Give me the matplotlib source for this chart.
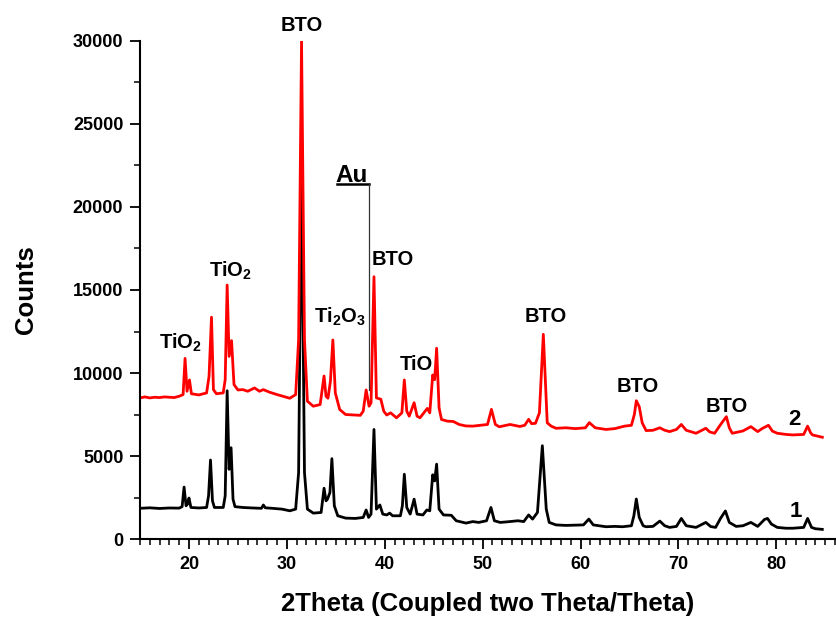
import matplotlib
matplotlib.use("Agg")
import matplotlib.pyplot as plt
from matplotlib.ticker import MultipleLocator

plt.rcParams['font.family'] = ['Liberation Sans', 'DejaVu Sans']
plt.rcParams['font.weight'] = 'bold'
plt.rcParams['mathtext.fontset'] = 'custom'
plt.rcParams['mathtext.rm'] = 'Liberation Sans:bold'
plt.rcParams['mathtext.bf'] = 'Liberation Sans:bold'
plt.rcParams['mathtext.it'] = 'Liberation Sans:bold'
plt.rcParams['mathtext.default'] = 'bf'

# ---- sample 1 (black) ----
two_theta_1 = [15.0, 16.0, 17.0, 18.0, 19.0, 19.3, 19.5, 19.7, 19.85, 20.0, 20.2, 21.0, 21.8, 22.0,
               22.2, 22.4, 22.6, 23.5, 23.7, 23.9, 24.1, 24.3, 24.5, 24.7, 25.5, 26.5, 27.4, 27.6,
               27.8, 28.5, 29.5, 30.3, 30.9, 31.2, 31.5, 31.8, 32.1, 32.7, 33.5, 33.8, 34.0, 34.15,
               34.4, 34.6, 34.85, 35.2, 36.0, 37.0, 37.8, 38.1, 38.35, 38.6, 38.9, 39.15, 39.5, 39.8,
               40.2, 40.5, 40.8, 41.6, 41.8, 42.0, 42.25, 42.6, 43.0, 43.3, 43.9, 44.3, 44.6, 44.9,
               45.1, 45.3, 45.55, 46.0, 46.8, 47.3, 48.3, 49.0, 49.6, 50.4, 50.85, 51.2, 51.8, 52.6,
               53.6, 54.2, 54.7, 55.1, 55.6, 56.1, 56.5, 56.8, 57.5, 58.5, 59.5, 60.3, 60.85, 61.3,
               62.6, 63.5, 64.3, 65.2, 65.45, 65.7, 66.0, 66.4, 66.7, 67.4, 68.1, 68.6, 69.1, 69.8,
               70.3, 70.8, 71.8, 72.8, 73.3, 73.8, 74.3, 74.8, 75.2, 75.9, 76.6, 77.4, 78.1, 78.8,
               79.1, 79.5, 80.1, 81.0, 81.7, 82.8, 83.2, 83.6, 84.0, 84.7]
counts_1 = [1850, 1880, 1840, 1870, 1860, 1950, 3130, 2000, 2100, 2470, 1900, 1870, 1900, 2600,
            4760, 2300, 1900, 1900, 2600, 8930, 4200, 5500, 2400, 1950, 1900, 1870, 1850, 2050,
            1880, 1850, 1800, 1700, 1800, 4000, 22500, 4000, 1800, 1560, 1600, 3060, 2300, 2400,
            2800, 4840, 2000, 1400, 1260, 1240, 1300, 1750, 1300, 1500, 6600, 1800, 2050, 1500,
            1450, 1560, 1400, 1400, 2000, 3900, 1900, 1500, 2400, 1500, 1450, 1750, 1700, 3870,
            3500, 4510, 1800, 1450, 1430, 1100, 960, 1050, 1000, 1100, 1900, 1100, 1000, 1040,
            1100, 1050, 1450, 1200, 1600, 5620, 1800, 1000, 850, 820, 840, 850, 1200, 850,
            740, 760, 740, 800, 1400, 2410, 1300, 800, 740, 760, 1080, 800, 700, 760,
            1240, 800, 700, 1000, 750, 700, 1240, 1690, 1000, 760, 800, 1000, 760, 1180,
            1240, 900, 700, 650, 650, 700, 1240, 700, 620, 580]

# ---- sample 2 (red) ----
two_theta_2 = [15.0, 15.5, 16.0, 16.5, 17.0, 17.5, 18.0, 18.5, 19.0, 19.4, 19.6, 19.8, 20.05, 20.25,
               21.0, 21.8, 22.05, 22.3, 22.5, 22.8, 23.5, 23.7, 23.9, 24.1, 24.35, 24.6, 25.0, 25.5,
               26.0, 26.7, 27.2, 27.6, 28.2, 29.0, 29.6, 30.3, 30.9, 31.2, 31.5, 31.8, 32.1, 32.7,
               33.4, 33.8, 34.0, 34.2, 34.45, 34.7, 34.95, 35.4, 36.0, 36.8, 37.5, 37.8, 38.1, 38.4,
               38.6, 38.9, 39.15, 39.6, 39.9, 40.2, 40.6, 41.2, 41.75, 42.0, 42.25, 42.5, 43.0, 43.3,
               43.6, 44.35, 44.6, 44.9, 45.1, 45.3, 45.55, 45.8, 46.4, 47.0, 47.6, 48.3, 49.0, 49.8,
               50.5, 50.9, 51.3, 51.7, 52.8, 53.8, 54.3, 54.7, 55.0, 55.4, 55.8, 56.2, 56.6, 57.0,
               57.5, 58.5, 59.5, 60.5, 60.9, 61.5, 62.6, 63.5, 64.5, 65.2, 65.5, 65.7, 66.0, 66.3,
               66.7, 67.4, 68.1, 68.6, 69.1, 69.8, 70.3, 70.8, 71.8, 72.8, 73.2, 73.7, 74.35, 74.9,
               75.2, 75.5, 76.6, 77.4, 78.1, 78.6, 79.2, 79.6, 80.1, 81.0, 81.7, 82.8, 83.2, 83.5,
               83.7, 84.2, 84.7]
counts_2 = [8500, 8560, 8500, 8540, 8520, 8560, 8540, 8520, 8600, 8700, 10880, 8900, 9580, 8750,
            8680, 8800, 9800, 13360, 9000, 8750, 8800, 9600, 15300, 11000, 11950, 9300, 8980, 9000,
            8900, 9100, 8900, 9000, 8850, 8700, 8600, 8480, 8700, 12000, 30000, 12000, 8300, 8000,
            8100, 9820, 8600, 8480, 9500, 11990, 8800, 7800, 7500, 7470, 7450, 7700, 8980, 8000,
            8200, 15800, 8500, 8420, 7700, 7470, 7600, 7300, 7600, 9580, 7700, 7400, 8210, 7400,
            7300, 7870, 7600, 9880, 9600, 11490, 7900, 7200, 7100, 7080, 6900, 6810, 6800, 6850,
            6900, 7810, 6900, 6760, 6900, 6780, 6850, 7210, 6950, 6970, 7600, 12330, 7000, 6800,
            6670, 6700, 6650, 6700, 7010, 6700, 6600, 6650, 6800, 6850, 7500, 8330, 7970, 7000,
            6530, 6550, 6700, 6550, 6470, 6600, 6900, 6550, 6370, 6670, 6450, 6370, 6930, 7370,
            6700, 6370, 6510, 6770, 6470, 6670, 6850, 6500, 6370, 6300, 6270, 6300, 6800, 6400,
            6270, 6200, 6130]

# ---- peak labels (text, x, y baseline) ----
label_texts = ['TiO$_2$', 'TiO$_2$', 'Ti$_2$O$_3$', 'BTO', 'TiO', 'BTO', 'BTO', 'BTO']
label_x = [16.94, 22.04, 32.76, 38.64, 41.53, 54.29, 63.64, 72.76]
label_y = [11446, 15780, 13012, 16506, 10181, 13090, 8873, 7669]

top_label = 'BTO'
top_label_x = 31.53
top_label_y = 30934

au_text = 'Au'
au_text_xy = (34.97, 21525)
au_underline_x = [35.1, 38.37, 38.37]
au_underline_y = [21386, 21386, 8976]

sample_names = ['1', '2']
sample_x = [81.33, 81.26]
sample_y = [1343, 6867]

fig = plt.figure(figsize=(8.36, 6.18), dpi=100)
ax = fig.add_axes([0.1675, 0.1278, 0.8325, 0.8059])

ax.plot(two_theta_1, counts_1, color='black', lw=2.0)
ax.plot(two_theta_2, counts_2, color='#ff0000', lw=2.0)

ax.set_xlim(15, 86.1)
ax.set_ylim(0, 30000)

for s in ['top', 'right']:
    ax.spines[s].set_visible(False)
for s in ['left', 'bottom']:
    ax.spines[s].set_linewidth(1.5)

ax.xaxis.set_major_locator(MultipleLocator(10))
ax.xaxis.set_minor_locator(MultipleLocator(1))
ax.yaxis.set_major_locator(MultipleLocator(5000))
ax.yaxis.set_minor_locator(MultipleLocator(2500))
ax.tick_params(which='major', direction='out', length=7, width=1.3, labelsize=13, pad=5)
ax.tick_params(which='minor', direction='out', length=4, width=1.1)
for lbl in ax.get_xticklabels() + ax.get_yticklabels():
    lbl.set_fontweight('bold')

ax.set_xlabel('2Theta (Coupled two Theta/Theta)', fontsize=18.5, fontweight='bold', labelpad=14)
ax.set_ylabel('Counts', fontsize=18.5, fontweight='bold', labelpad=25)

for t, x, y in zip(label_texts, label_x, label_y):
    ax.text(x, y, t, fontsize=14.5, fontweight='bold', ha='left', va='baseline')

ax.text(top_label_x, top_label_y, top_label, fontsize=14.5, fontweight='bold',
        ha='center', va='center', clip_on=False)

ax.text(au_text_xy[0], au_text_xy[1], au_text, fontsize=17.5, fontweight='bold',
        ha='left', va='baseline')
ax.plot(au_underline_x[:2], au_underline_y[:2], color='black', lw=1.8)
ax.plot(au_underline_x[1:], au_underline_y[1:], color='#333333', lw=0.9)

for t, x, y in zip(sample_names, sample_x, sample_y):
    ax.text(x, y, t, fontsize=16, fontweight='bold', ha='left', va='baseline')

fig.savefig('out.png', dpi=100)
